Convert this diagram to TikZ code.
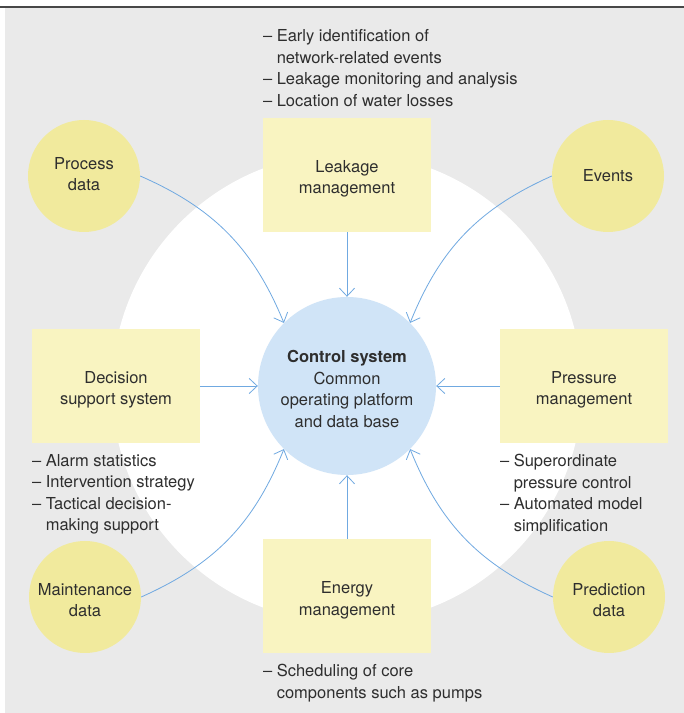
\documentclass[tikz,border=0pt]{standalone}
\usepackage{fontspec}
\setmainfont{TeX Gyre Heros}
\usetikzlibrary{positioning,arrows.meta}
\definecolor{bggray}{HTML}{EAEAEA}
\definecolor{boxyellow}{HTML}{F9F4C1}
\definecolor{dotyellow}{HTML}{F1EA9D}
\definecolor{ctrlblue}{HTML}{D0E4F7}
\definecolor{arrowblue}{HTML}{70A9E1}
\definecolor{txtgray}{HTML}{2E2E2E}
\newcommand\txtdrop[1]{\rule{0pt}{#1}}% taller first line, text sits lower
\newcommand\txtlift[1]{\rule[-#1]{0pt}{0pt}}% deeper last line, text sits higher
\tikzset{%
  >={Straight Barb[length=8pt,width=15pt]},
  every node/.style={font=\fontsize{16.5}{21.5}\selectfont,text=txtgray},
  taskbox/.style={fill=boxyellow,minimum width=168pt,minimum height=114pt,
    align=center,inner sep=0pt},
  datadot/.style={circle,fill=dotyellow,minimum size=112pt,align=center,
    inner sep=0pt},
  itemlist/.style={align=left,inner sep=0pt},
  link/.style={->,arrowblue,line width=0.8pt}%
}

\begin{document}
\begin{tikzpicture}[x=1pt,y=1pt]
\useasboundingbox (0,0) rectangle (684,713);
\fill[bggray] (5,0) rectangle (684,705);
\draw[line width=2pt,black!72] (0,706) -- (684,706); % top rule
\fill[white] (347,325) circle (235);

\node[circle,fill=ctrlblue,minimum size=178pt,inner sep=0pt,align=center] (ctrl) at (347,327)
  {\txtdrop{18pt}\textbf{Control system}\\Common\\operating platform\\and data base};

\node[taskbox] (leak) at (347,538) {\txtdrop{20pt}Leakage\\management};
\node[taskbox] (decide) at (116,327) {\txtdrop{20pt}Decision\\support system};
\node[taskbox] (press) at (584,327) {\txtdrop{20pt}Pressure\\management};
\node[taskbox] (energy) at (347,117) {\txtdrop{21pt}Energy\\management};

\node[datadot] (proc) at (84,537) {Process\\data\txtlift{4pt}};
\node[datadot] (events) at (608,537) {Events};
\node[datadot] (maint) at (85,116) {\txtdrop{18pt}Maintenance\\data};
\node[datadot] (pred) at (609,116) {\txtdrop{18pt}Prediction\\data};

\node[itemlist,above right=11pt and 0pt of leak.north west] (leaklist)
  {– Early identification of\\\hphantom{– }network-related events\\
   – Leakage monitoring and analysis\\– Location of water losses};
\node[itemlist,below right=11pt and 0pt of decide.south west] (decidelist)
  {– Alarm statistics\\– Intervention strategy\\– Tactical decision-\\
   \hphantom{– }making support};
\node[itemlist,below right=11pt and 0pt of press.south west] (presslist)
  {– Superordinate\\\hphantom{– }pressure control\\– Automated model\\
   \hphantom{– }simplification};
\node[itemlist,below right=11pt and 0pt of energy.south west] (energylist)
  {– Scheduling of core\\\hphantom{– }components such as pumps};

\draw[link] (leak) -- (ctrl);
\draw[link] (decide) -- (ctrl);
\draw[link] (press) -- (ctrl);
\draw[link] (energy) -- (ctrl);

\draw[link] (proc.east) to[bend left=22] (ctrl.135);
\draw[link] (events.west) to[bend right=22] (ctrl.45);
\draw[link] (maint.east) to[bend right=22] (ctrl.-135);
\draw[link] (pred.west) to[bend left=22] (ctrl.-45);
\end{tikzpicture}
\end{document}
